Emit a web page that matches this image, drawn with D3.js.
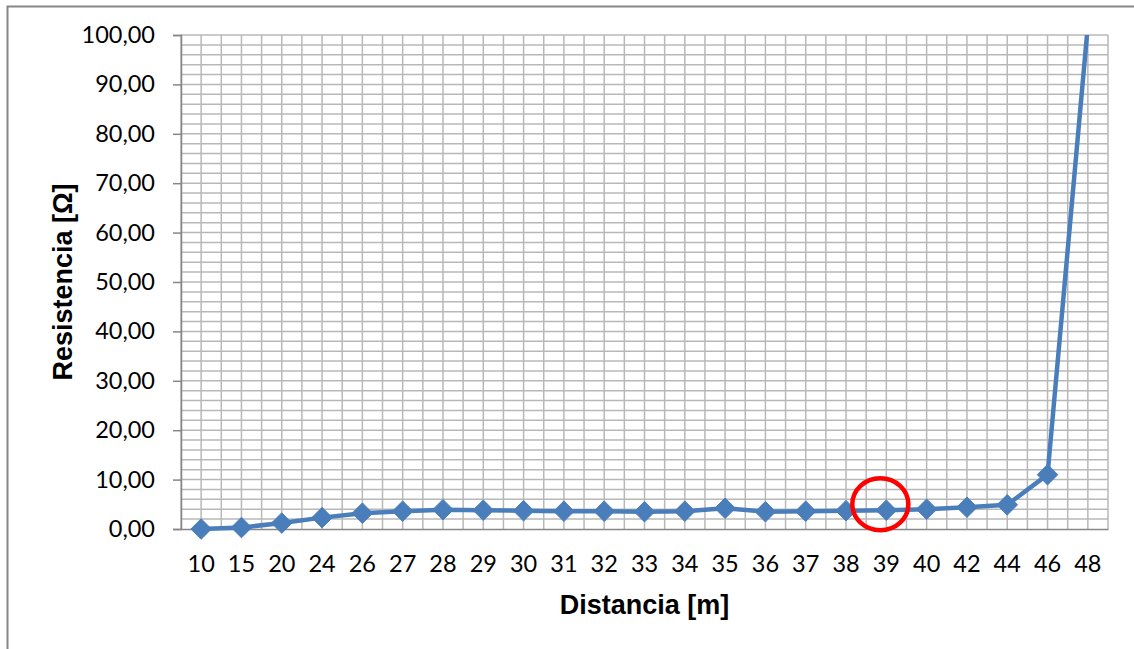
<!DOCTYPE html>
<html>
<head>
<meta charset="utf-8">
<script src="https://cdn.jsdelivr.net/npm/d3@7"></script>
<style>
  body { margin: 0; background: #fff; }
  svg { display: block; }
</style>
</head>
<body>
<div id="chart"></div>
<script>
// data
var distancias = ["10", "15", "20", "24", "26", "27", "28", "29", "30", "31", "32", "33",
                  "34", "35", "36", "37", "38", "39", "40", "42", "44", "46", "48"];
var resistencias = [0.0, 0.3, 1.2, 2.3, 3.2, 3.6, 3.9, 3.8, 3.7, 3.6, 3.6, 3.5,
                    3.6, 4.2, 3.5, 3.6, 3.7, 3.8, 4.0, 4.4, 4.9, 11.0, 102.0];
var yTicks = [0, 10, 20, 30, 40, 50, 60, 70, 80, 90, 100];
var marcado = "39";

var width = 1134, height = 649;
var margin = {left: 181, right: 26, top: 35, bottom: 120};

var svg = d3.select("#chart").append("svg")
    .attr("width", width)
    .attr("height", height);

// outer frame (cut by the picture at right/bottom)
svg.append("rect")
    .attr("x", 7.5).attr("y", 6.5)
    .attr("width", width + 20).attr("height", height + 20)
    .style("fill", "none")
    .style("stroke", "#868686")
    .style("stroke-width", 2);

var x = d3.scaleBand()
    .domain(distancias)
    .range([margin.left, width - margin.right]);

var y = d3.scaleLinear()
    .domain([0, 100])
    .range([height - margin.bottom, margin.top]);

var bw = x.bandwidth();

// grid
var grid = svg.append("g").attr("class", "grid");
var vx = [];
distancias.forEach(function(d) { vx.push(x(d)); vx.push(x(d) + bw / 2); });
vx.push(x.range()[1]);
grid.selectAll(".vline")
    .data(vx)
    .enter().append("line")
    .attr("class", "vline")
    .attr("x1", function(d) { return d; })
    .attr("x2", function(d) { return d; })
    .attr("y1", y(0))
    .attr("y2", y(100))
    .style("stroke", "#b8b8b8")
    .style("stroke-width", 1.5);

grid.selectAll(".hline")
    .data(d3.range(2, 101, 2))
    .enter().append("line")
    .attr("class", "hline")
    .attr("x1", x.range()[0])
    .attr("x2", x.range()[1])
    .attr("y1", function(d) { return y(d); })
    .attr("y2", function(d) { return y(d); })
    .style("stroke", "#b8b8b8")
    .style("stroke-width", 1.5);

// axes
var fmt = function(d) { return d3.format(".2f")(d).replace(".", ","); };

var yAxis = d3.axisLeft(y)
    .tickValues(yTicks)
    .tickSize(8)
    .tickPadding(18)
    .tickFormat(fmt);

svg.append("g")
    .attr("class", "axis axis--y")
    .attr("transform", "translate(" + margin.left + ",0)")
    .call(yAxis)
    .call(function(g) {
      g.select(".domain").attr("stroke", "#868686").attr("stroke-width", 1.5);
      g.selectAll(".tick line").attr("stroke", "#868686").attr("stroke-width", 1.5);
      g.selectAll(".tick text")
        .style("font-family", "Lato, 'Open Sans', sans-serif")
        .style("font-size", "23.5px")
        .attr("fill", "#000");
    });

var xAxis = d3.axisBottom(x)
    .tickSize(0)
    .tickPadding(26);

svg.append("g")
    .attr("class", "axis axis--x")
    .attr("transform", "translate(0," + y(0) + ")")
    .call(xAxis)
    .call(function(g) {
      g.select(".domain").attr("stroke", "#868686").attr("stroke-width", 1.5);
      g.selectAll(".tick text")
        .style("font-family", "Lato, 'Open Sans', sans-serif")
        .style("font-size", "23.5px")
        .attr("fill", "#000");
    });

// titles
svg.append("text")
    .attr("x", (x.range()[0] + x.range()[1]) / 2)
    .attr("y", 614)
    .attr("text-anchor", "middle")
    .style("font-family", "'Liberation Sans', Arial, sans-serif")
    .style("font-weight", "bold")
    .style("font-size", "27px")
    .text("Distancia [m]");

svg.append("text")
    .attr("transform", "translate(72," + 282 + ") rotate(-90)")
    .attr("text-anchor", "middle")
    .style("font-family", "'Liberation Sans', Arial, sans-serif")
    .style("font-weight", "bold")
    .style("font-size", "27px")
    .text("Resistencia [Ω]");

// series, clipped to the plot area
svg.append("clipPath")
    .attr("id", "plotclip")
    .append("rect")
    .attr("x", x.range()[0])
    .attr("y", y(100))
    .attr("width", x.range()[1] - x.range()[0])
    .attr("height", y(0) - y(100) + 12);

var puntos = distancias.map(function(d, i) { return {d: d, v: resistencias[i]}; });

var serie = svg.append("g").attr("clip-path", "url(#plotclip)");

var line = d3.line()
    .x(function(p) { return x(p.d) + bw / 2; })
    .y(function(p) { return y(p.v); });

serie.append("path")
    .datum(puntos)
    .attr("d", line)
    .style("fill", "none")
    .style("stroke", "#4a7ebb")
    .style("stroke-width", 4.5)
    .style("stroke-linejoin", "round");

var diamond = d3.symbol().type(d3.symbolDiamond2).size(270);

svg.selectAll(".marker")
    .data(puntos.filter(function(p) { return p.v <= 100; }))
    .enter().append("path")
    .attr("class", "marker")
    .attr("transform", function(p) {
      return "translate(" + (x(p.d) + bw / 2) + "," + y(p.v) + ")";
    })
    .attr("d", diamond)
    .style("fill", "#4a7ebb")
    .style("stroke", "#4a7ebb")
    .style("stroke-width", 1);

// red highlight ring
var pm = puntos.filter(function(p) { return p.d === marcado; })[0];
svg.append("ellipse")
    .attr("cx", x(pm.d) + bw / 2 - 6)
    .attr("cy", y(pm.v) - 6)
    .attr("rx", 28)
    .attr("ry", 26)
    .style("fill", "none")
    .style("stroke", "#ff0000")
    .style("stroke-width", 4.5);
</script>
</body>
</html>
